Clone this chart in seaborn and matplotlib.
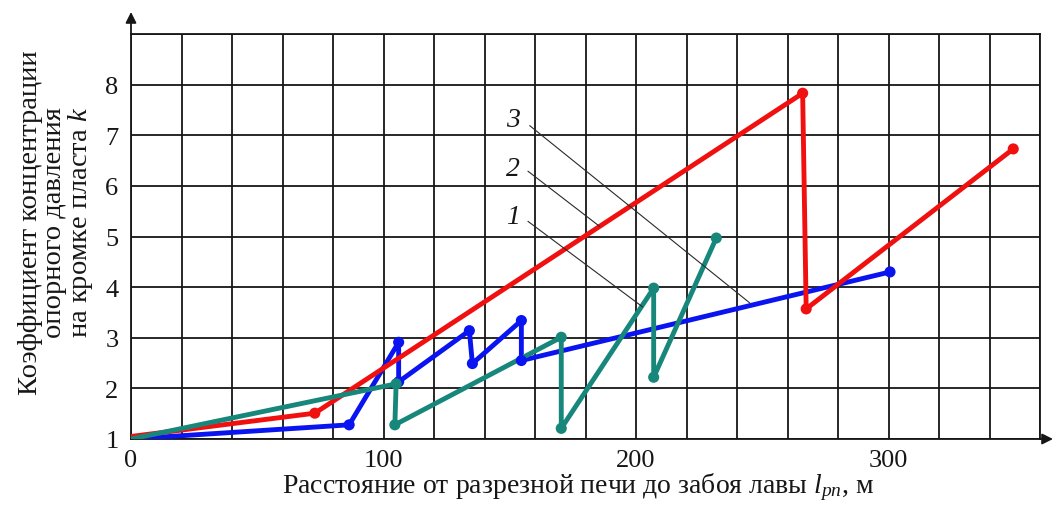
import numpy as np
import pandas as pd
import matplotlib
matplotlib.use("Agg")
import matplotlib.pyplot as plt
import seaborn as sns

# Distance from the set-up entry to the longwall face, m, and the
# abutment pressure concentration factor k at the seam edge
blue_dist = [0, 86.4, 106, 106, 134, 135.2, 154.6, 154.6, 300.6]
blue_k = [1.0, 1.28, 2.91, 2.13, 3.14, 2.49, 3.34, 2.55, 4.30]

red_dist = [0, 72.8, 266, 267.4, 349.4]
red_k = [1.05, 1.51, 7.83, 3.57, 6.73]

teal_dist = [0, 105, 104.5, 170.4, 170.4, 207, 207, 231.8]
teal_k = [1.0, 2.09, 1.28, 3.01, 1.21, 3.98, 2.22, 4.97]

curve_names = ["2", "3", "1"]
curve_colors = {"2": "#0a14f0", "3": "#f01010", "1": "#17877c"}

x_tick_values = [0, 100, 200, 300]
y_tick_values = [1, 2, 3, 4, 5, 6, 7, 8]

# Curve number labels with the end of their leader lines
label_text = ["3", "2", "1"]
label_pos = [(151.2, 7.32), (151.3, 6.35), (151.3, 5.39)]
leader_start = [(157.9, 7.19), (157.2, 6.29), (157.2, 5.30)]
leader_end = [(245.0, 3.69), (185.6, 5.20), (202.6, 3.61)]

frames = []
for name, xs, ks in zip(curve_names, [blue_dist, red_dist, teal_dist],
                        [blue_k, red_k, teal_k]):
    frames.append(pd.DataFrame({"dist": xs, "k": ks, "curve": name,
                                "step": np.arange(len(xs))}))
df = pd.concat(frames, ignore_index=True)

sns.set_theme(style="white")
plt.rcParams["font.family"] = ["Liberation Serif", "DejaVu Serif"]
plt.rcParams["mathtext.fontset"] = "custom"
plt.rcParams["mathtext.rm"] = "Liberation Serif"
plt.rcParams["mathtext.it"] = "Liberation Serif:italic"

fig = plt.figure(figsize=(10.55, 5.06), dpi=100)
ax = fig.add_axes([131 / 1055, 66 / 506, 909 / 1055, 405 / 506])

ink = "#161616"

# graph-paper grid every 20 m and every unit of k
ax.set_xlim(0, 360)
ax.set_ylim(1, 9)
ax.set_xticks(np.arange(0, 361, 20))
ax.set_xticklabels([str(v) if v in x_tick_values else "" for v in range(0, 361, 20)])
ax.set_yticks(np.arange(1, 10))
ax.set_yticklabels([str(v) if v in y_tick_values else "" for v in range(1, 10)])
ax.grid(True, color=ink, lw=1.3)
for s in ax.spines.values():
    s.set_color(ink)
    s.set_linewidth(1.3)
ax.tick_params(axis="x", length=3, width=1.2, color=ink, pad=4,
               labelsize=19, labelcolor=ink)
ax.tick_params(axis="y", length=0, pad=9, labelsize=19, labelcolor=ink)

# axis arrows
arrow = dict(arrowstyle="-|>", color=ink, lw=1.3, mutation_scale=16,
             shrinkA=0, shrinkB=0)
ax.annotate("", xy=(1 + 13 / 909, 0), xytext=(1, 0),
            xycoords="axes fraction", textcoords="axes fraction",
            arrowprops=arrow, annotation_clip=False)
ax.annotate("", xy=(0, 1 + 22 / 405), xytext=(0, 1),
            xycoords="axes fraction", textcoords="axes fraction",
            arrowprops=arrow, annotation_clip=False)

# curves
sns.lineplot(data=df, x="dist", y="k", hue="curve", hue_order=curve_names,
             palette=curve_colors, sort=False, estimator=None, lw=3.5,
             legend=False, ax=ax, zorder=3)
sns.scatterplot(data=df[df["step"] > 0], x="dist", y="k", hue="curve",
                hue_order=curve_names, palette=curve_colors, s=64,
                linewidth=0, legend=False, ax=ax, zorder=4)

# curve numbers with leaders
for txt, pos, a, b in zip(label_text, label_pos, leader_start, leader_end):
    ax.text(pos[0], pos[1], txt, fontsize=20, style="italic", color=ink,
            ha="center", va="center")
    ax.annotate("", xy=b, xytext=a,
                arrowprops=dict(arrowstyle="-", color="#2a2a2a", lw=0.8,
                                shrinkA=0, shrinkB=0), zorder=5)

ax.set_xlabel("Расстояние от разрезной печи до забоя лавы $l_{pn}$, м",
              fontsize=20, color=ink)
ax.xaxis.set_label_coords(0.492, -0.077)
ax.set_ylabel("Коэффициент концентрации\nопорного давления\nна кромке пласта $k$",
              fontsize=20.5, color=ink, linespacing=0.95)
ax.yaxis.set_label_coords(-0.040, 0.536)

fig.savefig("out.png", dpi=100)
